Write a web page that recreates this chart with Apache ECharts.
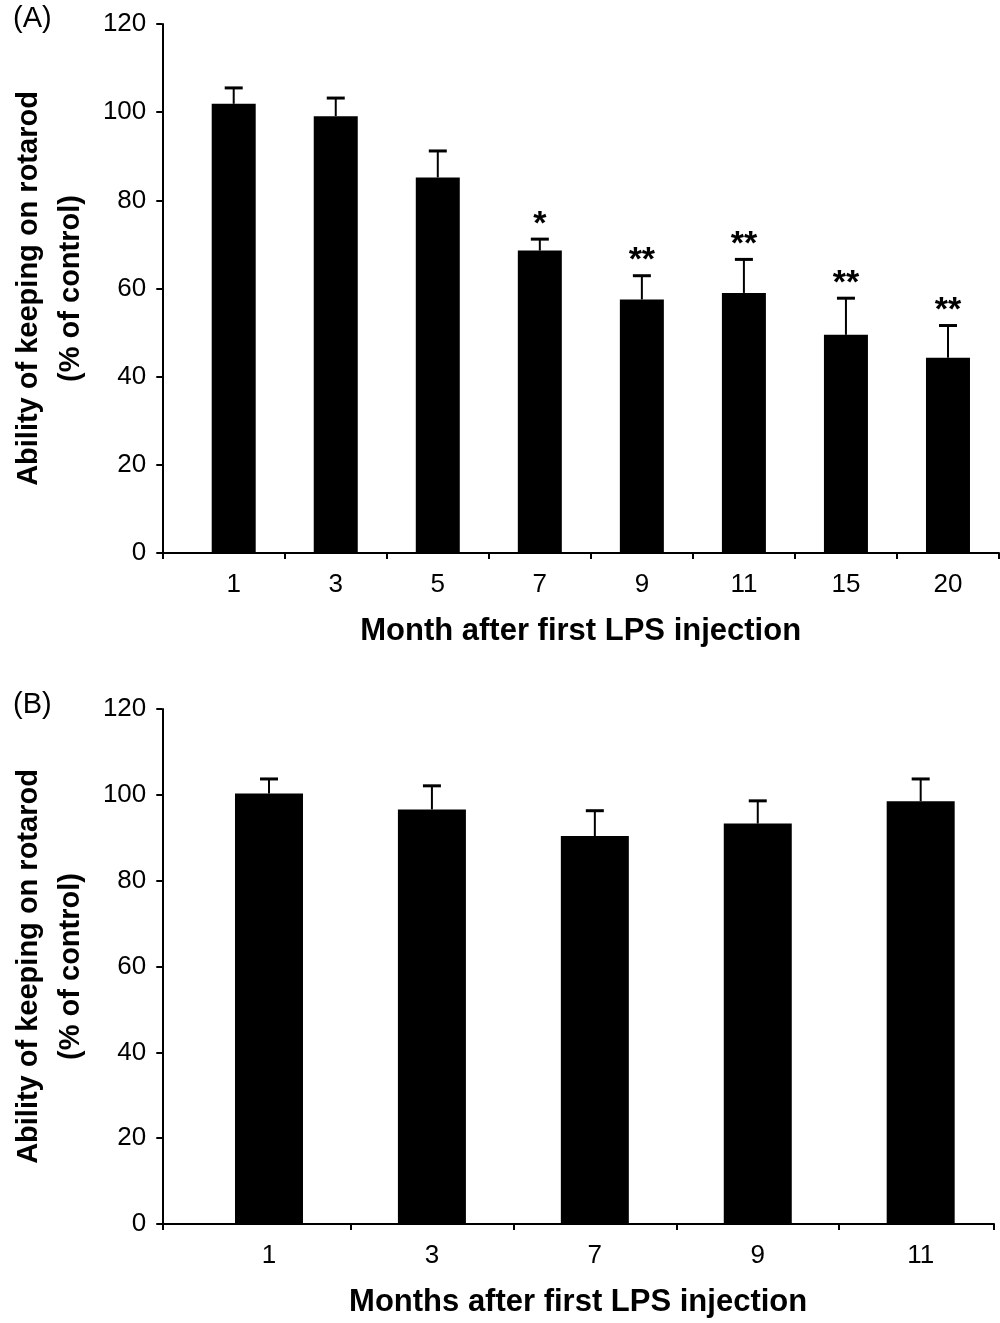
<!DOCTYPE html>
<html>
<head>
<meta charset="utf-8">
<script src="https://cdn.jsdelivr.net/npm/echarts@6/dist/echarts.min.js"></script>
<style>
html,body{margin:0;padding:0;background:#fff;}
#chart{width:1000px;height:1323px;}
</style>
</head>
<body>
<div id="chart"></div>
<script>
// Panel A data
const monthsA = ['1', '3', '5', '7', '9', '11', '15', '20'];
const meanA = [101.9, 99.1, 85.2, 68.6, 57.5, 59.0, 49.5, 44.3];
const errA = [3.6, 4.1, 6.0, 2.6, 5.4, 7.6, 8.3, 7.3];
const sigA = ['', '', '', '*', '**', '**', '**', '**'];
// Panel B data
const monthsB = ['1', '3', '7', '9', '11'];
const meanB = [100.3, 96.6, 90.4, 93.3, 98.5];
const errB = [3.4, 5.5, 5.9, 5.3, 5.2];
const sigB = ['', '', '', '', ''];
const yTicks = [0, 20, 40, 60, 80, 100, 120];

const FONT = 'Liberation Sans, Arial, sans-serif';
const chart = echarts.init(document.getElementById('chart'), null, {renderer: 'canvas'});

function xAxisCfg(gridIndex, cats, min, max, title) {
  const mids = [];
  for (let i = 0; i < cats.length - 1; i++) mids.push(i + 0.5);
  return {
    type: 'value', gridIndex: gridIndex, min: min, max: max,
    splitLine: {show: false},
    axisLine: {show: true, onZero: false, lineStyle: {color: '#000', width: 2}},
    axisTick: {show: true, length: 6, lineStyle: {color: '#000', width: 2}, customValues: [min].concat(mids).concat([max])},
    axisLabel: {color: '#000', fontSize: 26, fontFamily: FONT, margin: 19,
      customValues: cats.map((c, i) => i), formatter: v => cats[Math.round(v)]},
    name: title, nameLocation: 'middle', nameGap: 63,
    nameTextStyle: {color: '#000', fontSize: 31, fontWeight: 'bold', fontFamily: FONT}
  };
}
function yAxisCfg(gridIndex) {
  return {
    type: 'value', gridIndex: gridIndex, min: yTicks[0], max: yTicks[yTicks.length - 1], interval: 20,
    splitLine: {show: false},
    axisLine: {show: true, onZero: false, lineStyle: {color: '#000', width: 2}},
    axisTick: {show: true, length: 6, lineStyle: {color: '#000', width: 2}},
    axisLabel: {color: '#000', fontSize: 26, fontFamily: FONT, margin: 16},
    name: 'Ability of keeping on rotarod\n(% of control)', nameLocation: 'middle', nameGap: 68,
    nameTextStyle: {color: '#000', fontSize: 29, fontWeight: 'bold', fontFamily: FONT, lineHeight: 42, align: 'center'}
  };
}
function errSeries(idx, mean, err, sig) {
  return {
    type: 'custom', xAxisIndex: idx, yAxisIndex: idx, z: 5,
    data: mean.map((m, i) => [i, m, m + err[i]]),
    renderItem: function (params, api) {
      const i = api.value(0);
      const p0 = api.coord([i, api.value(1)]);
      const p1 = api.coord([i, api.value(2)]);
      const s = sig[params.dataIndex];
      const children = [
        {type: 'line', shape: {x1: p0[0], y1: p0[1], x2: p1[0], y2: p1[1]}, style: {stroke: '#000', lineWidth: 2}},
        {type: 'line', shape: {x1: p1[0] - 9, y1: p1[1], x2: p1[0] + 9, y2: p1[1]}, style: {stroke: '#000', lineWidth: 3}}
      ];
      if (s) {
        children.push({type: 'text', style: {text: s, x: p1[0], y: p1[1] + 2, align: 'center', verticalAlign: 'bottom',
          fontSize: 34, fontWeight: 'bold', fontFamily: FONT, fill: '#000'}});
      }
      return {type: 'group', children: children};
    }
  };
}

const option = {
  backgroundColor: '#fff',
  animation: false,
  graphic: [
    {type: 'text', left: 13, top: 4, style: {text: '(A)', fontSize: 29, fontFamily: FONT, fill: '#000'}},
    {type: 'text', left: 13, top: 690, style: {text: '(B)', fontSize: 29, fontFamily: FONT, fill: '#000'}}
  ],
  grid: [
    {left: 159, top: 24, width: 840, height: 529},
    {left: 160, top: 709, width: 834, height: 515}
  ],
  xAxis: [
    xAxisCfg(0, monthsA, -0.7, 7.5, 'Month after first LPS injection'),
    xAxisCfg(1, monthsB, -0.655, 4.45, 'Months after first LPS injection')
  ],
  yAxis: [yAxisCfg(0), yAxisCfg(1)],
  series: [
    {type: 'bar', xAxisIndex: 0, yAxisIndex: 0, barWidth: 44, itemStyle: {color: '#000'},
      data: meanA.map((v, i) => [i, v])},
    errSeries(0, meanA, errA, sigA),
    {type: 'bar', xAxisIndex: 1, yAxisIndex: 1, barWidth: 68, itemStyle: {color: '#000'},
      data: meanB.map((v, i) => [i, v])},
    errSeries(1, meanB, errB, sigB)
  ]
};
chart.setOption(option);
</script>
</body>
</html>
